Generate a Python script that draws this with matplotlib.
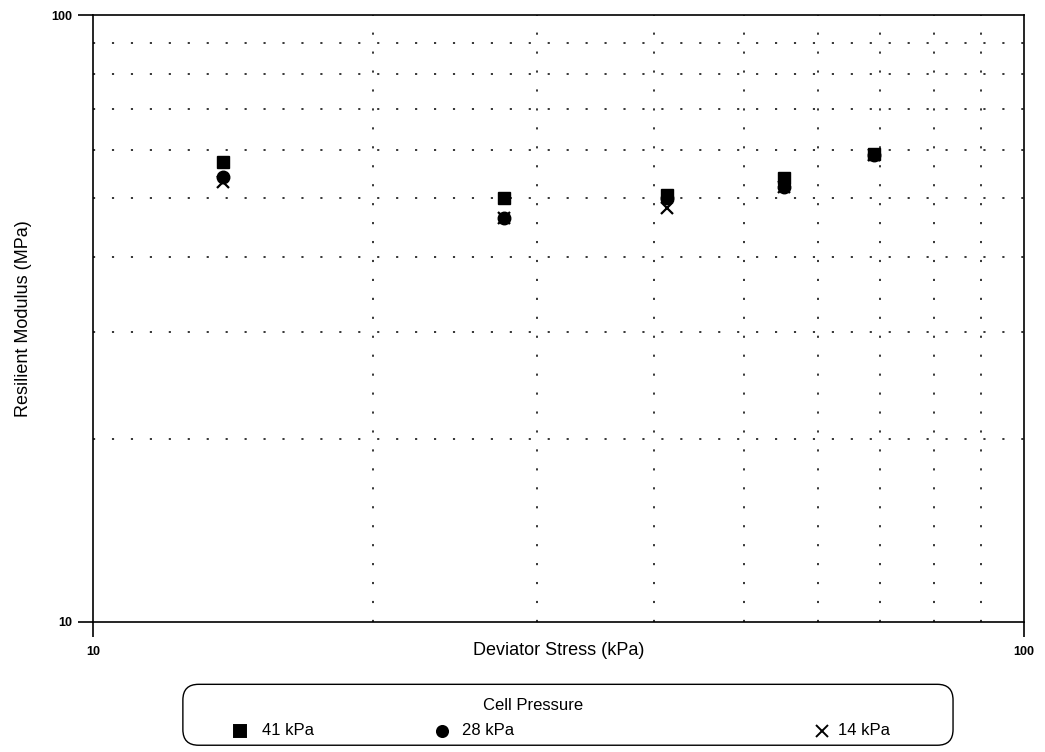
import matplotlib.pyplot as plt
from matplotlib.patches import FancyBboxPatch
from matplotlib.lines import Line2D

plt.rcParams['font.family'] = ['Liberation Sans', 'DejaVu Sans']

# deviator stress (kPa) and resilient modulus (MPa) for each cell pressure
dev_stress = [13.8, 27.6, 41.4, 55.2, 69.0]
mr_41 = [57.3, 50.0, 50.5, 53.9, 59.0]
mr_28 = [54.1, 46.3, 50.0, 52.1, 58.8]
mr_14 = [53.1, 46.3, 48.1, 52.1, 58.8]
labels = ['41 kPa', '28 kPa', '14 kPa']

fig = plt.figure(figsize=(10.45, 7.52), dpi=100)
ax = fig.add_axes([0.089, 0.173, 0.891, 0.807])

ax.plot(dev_stress, mr_14, ls='none', marker='x', color='black', ms=8, mew=1.6)
ax.plot(dev_stress, mr_28, ls='none', marker='o', color='black', ms=9)
ax.plot(dev_stress, mr_41, ls='none', marker='s', color='black', ms=9)

ax.set_xscale('log')
ax.set_yscale('log')
ax.set_xlim(10, 100)
ax.set_ylim(10, 100)

ax.set_xticks([10, 100])
ax.set_xticklabels(['10', '100'], fontweight='bold', fontsize=9)
ax.set_yticks([10, 100])
ax.set_yticklabels(['10', '100'], fontweight='bold', fontsize=9)
ax.tick_params(axis='both', which='major', length=11, width=1.2)
ax.tick_params(axis='x', which='major', pad=6)
ax.tick_params(axis='y', which='major', pad=4)
ax.tick_params(which='minor', length=0)
ax.minorticks_on()
ax.yaxis.set_minor_formatter(plt.NullFormatter())
ax.xaxis.set_minor_formatter(plt.NullFormatter())

# sparse dotted grid like the scanned original
ax.grid(which='minor', color='black', lw=1.1, ls=(0, (1.4, 11)))
for s in ax.spines.values():
    s.set_linewidth(1.2)

ax.set_xlabel('Deviator Stress (kPa)', fontsize=13, labelpad=-11)
ax.set_ylabel('Resilient Modulus (MPa)', fontsize=13, labelpad=14)

# legend box drawn by hand to keep the uneven spacing of the original
box = FancyBboxPatch((0.175, 0.009), 0.737, 0.081, transform=fig.transFigure,
                     boxstyle='round,pad=0,rounding_size=0.015',
                     mutation_aspect=1045 / 752, fc='white', ec='black', lw=1.0)
fig.add_artist(box)
fig.text(0.51, 0.0625, 'Cell Pressure', ha='center', va='center', fontsize=12)
keys = [('s', 0.23, 0.251), ('o', 0.423, 0.442), ('x', 0.787, 0.802)]
for (m, kx, tx), lab in zip(keys, labels):
    fig.add_artist(Line2D([kx], [0.028], transform=fig.transFigure, marker=m,
                          color='black', ms=8, mew=1.4, ls='none'))
    fig.text(tx, 0.028, lab, ha='left', va='center', fontsize=12)

fig.savefig('out.png', dpi=100)
